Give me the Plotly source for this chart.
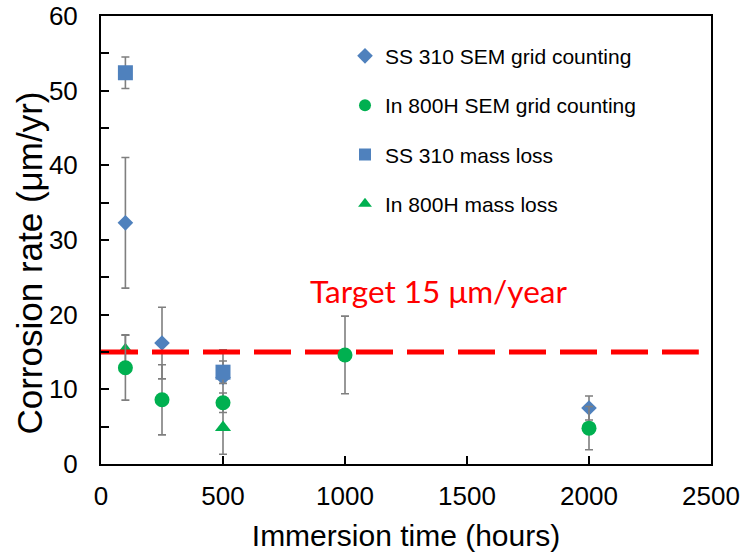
import plotly.graph_objects as go

# ---- data ----
ss310_sem_x = [100, 250, 500, 2000]
ss310_sem_y = [32.3, 16.2, 11.6, 7.5]
ss310_sem_err = [8.75, 4.8, 3.7, 1.6]

in800_sem_x = [100, 250, 500, 1000, 2000]
in800_sem_y = [12.9, 8.6, 8.2, 14.6, 4.8]
in800_sem_err = [4.35, 4.7, 1.3, 5.2, 2.9]

ss310_ml_x = [100, 500]
ss310_ml_y = [52.4, 12.3]
ss310_ml_err = [2.1, 1.5]

in800_ml_x = [100, 500]
in800_ml_y = [15.3, 4.9]
in800_ml_err = [2.0, 3.6]

target_x = [0, 2450]
target_y = [15, 15]
target_label = "Target 15 μm/year"

x_tick_vals = [0, 500, 1000, 1500, 2000, 2500]
y_tick_vals = [0, 10, 20, 30, 40, 50, 60]

x_title = "Immersion time (hours)"
y_title = "Corrosion rate (μm/yr)"

BLUE = "#4F81BD"
GREEN = "#00B050"
ERR = dict(type="data", color="#7F7F7F", thickness=1.6, width=4)

fig = go.Figure()

def add(name, x, y, err, color, symbol, size, rank):
    fig.add_trace(go.Scatter(
        x=x, y=y, mode="markers", name=name, legendgroup=name, legendrank=rank,
        marker=dict(color=color, symbol=symbol, size=size, line=dict(width=0)),
        error_y=dict(array=err, **ERR),
    ))

add("SS 310 SEM grid counting", ss310_sem_x, ss310_sem_y, ss310_sem_err, BLUE, "diamond", 12, 1)
add("SS 310 mass loss", ss310_ml_x, ss310_ml_y, ss310_ml_err, BLUE, "square", 15, 3)
add("In 800H mass loss", in800_ml_x, in800_ml_y, in800_ml_err, GREEN, "triangle-up", 14, 4)

fig.add_trace(go.Scatter(
    x=target_x, y=target_y, mode="lines", showlegend=False, hoverinfo="skip",
    line=dict(color="#FF0000", width=5, dash="37px,14px"),
))

add("In 800H SEM grid counting", in800_sem_x, in800_sem_y, in800_sem_err, GREEN, "circle", 15, 2)

fig.add_annotation(
    x=1383, y=23.2, xref="x", yref="y", text=target_label, showarrow=False,
    font=dict(family="Lato", size=31.5, color="#FF0000"),
)

# y-axis title (placed as rotated text to match the reference offset)
fig.add_annotation(
    x=-0.118, y=0.4475, xref="paper", yref="paper", text=y_title, showarrow=False,
    textangle=-90, xanchor="center", yanchor="middle",
    font=dict(family="Liberation Sans, Arial", size=35, color="#000000"),
)

axis_font = dict(family="Liberation Sans, Arial", size=26, color="#000000")

fig.update_xaxes(
    range=[0, 2500], tickvals=x_tick_vals, ticks="inside", ticklen=8, tickwidth=1.5,
    tickcolor="#000000", showline=True, linecolor="#000000", linewidth=2, mirror=True,
    showgrid=False, zeroline=False, tickfont=axis_font, ticklabelstandoff=8,
    automargin=False, ticklabeloverflow="allow",
    title=dict(text=x_title, font=dict(family="Liberation Sans, Arial", size=30, color="#000000"), standoff=15),
)
fig.update_yaxes(
    range=[0, 60], tickvals=y_tick_vals, ticks="inside", ticklen=8, tickwidth=1.5,
    tickcolor="#000000", showline=True, linecolor="#000000", linewidth=2, mirror=True,
    showgrid=False, zeroline=False, tickfont=axis_font, ticklabelstandoff=16,
    automargin=False, ticklabeloverflow="allow",
    minor=dict(dtick=5, ticks="inside", ticklen=8, tickwidth=1.5, tickcolor="#000000", showgrid=False),
)

fig.update_layout(
    width=743, height=554,
    margin=dict(l=101, r=32, t=16, b=90),
    paper_bgcolor="#FFFFFF", plot_bgcolor="#FFFFFF",
    showlegend=True,
    legend=dict(
        x=0.4, y=0.956, xanchor="left", yanchor="top",
        font=dict(family="Liberation Sans, Arial", size=21, color="#000000"),
        bgcolor="rgba(0,0,0,0)", tracegroupgap=19, itemsizing="constant",
        traceorder="grouped",
    ),
)

fig.write_html(
    "out.html",
    config={"displayModeBar": False},
    post_script="document.body.style.margin='0px';document.body.style.overflow='hidden';",
)
